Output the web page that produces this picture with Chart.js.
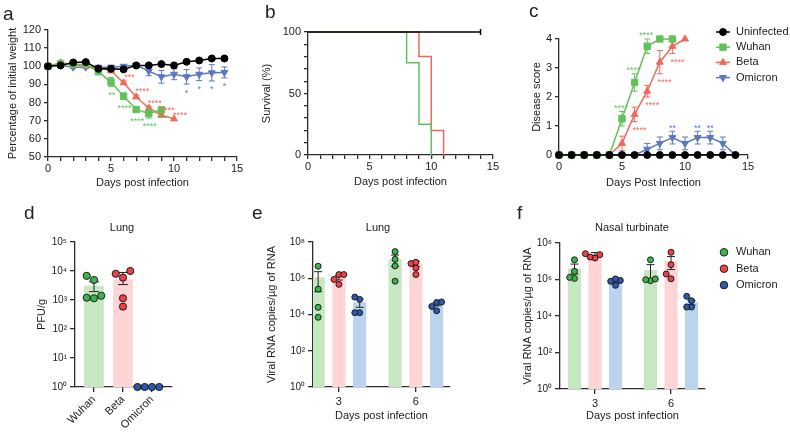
<!DOCTYPE html>
<html>
<head>
<meta charset="utf-8">
<script src="https://cdn.jsdelivr.net/npm/chart.js@4.4.0/dist/chart.umd.min.js"></script>
<style>
    body { margin: 0; background: #fff; }
    #fig { position: relative; width: 790px; height: 436px; overflow: hidden; font-family: "Liberation Sans", Arial, sans-serif; color: #222; }
    #fig canvas { position: absolute; }
    .letter { position: absolute; font-size: 19px; line-height: 19px; }
    .sub { position: absolute; font-size: 11px; line-height: 13px; transform: translateX(-50%); white-space: nowrap; }
</style>
</head>
<body>
<div id="fig">
    <canvas id="chartA" width="250" height="200" style="left:0;top:0"></canvas>
    <canvas id="chartB" width="250" height="200" style="left:250px;top:0"></canvas>
    <canvas id="chartC" width="290" height="200" style="left:500px;top:0"></canvas>
    <canvas id="chartD" width="250" height="236" style="left:0;top:200px"></canvas>
    <canvas id="chartE" width="250" height="236" style="left:250px;top:200px"></canvas>
    <canvas id="chartF" width="290" height="236" style="left:500px;top:200px"></canvas>
    <div class="letter" style="left:3px;top:4px">a</div>
    <div class="letter" style="left:265px;top:2px">b</div>
    <div class="letter" style="left:529px;top:1px">c</div>
    <div class="letter" style="left:24px;top:203px">d</div>
    <div class="letter" style="left:252px;top:203px">e</div>
    <div class="letter" style="left:517px;top:203px">f</div>
    <div class="sub" style="left:122px;top:221px">Lung</div>
    <div class="sub" style="left:378px;top:221px">Lung</div>
    <div class="sub" style="left:632px;top:221px">Nasal turbinate</div>
</div>
<script>
// a: body weight (mean, sem) per day
const days = [0, 1, 2, 3, 4, 5, 6, 7, 8, 9, 10, 11, 12, 13, 14];
const weightUninfected = [100, 100.5, 102.1, 102.3, 98.6, 98.6, 98.3, 100.5, 100.5, 101.2, 100.5, 102.5, 103.2, 104.3, 104.3];
const weightUninfectedSem = [0, 0.5, 0.6, 0.6, 0.6, 0.6, 0.8, 0.8, 0.6, 0.6, 0.6, 0.6, 0.6, 0.6, 0.6];
const weightWuhan = [100, 101.5, 101, 101, 97, 91.3, 83.5, 76.2, 74, 76];
const weightWuhanSem = [0, 0.8, 0.8, 0.8, 1.2, 2.5, 1.8, 1.5, 2.5, 0];
const weightBeta = [100, 102, 101, 100, 99, 97.5, 90.9, 83.2, 76.9, 73, 71];
const weightBetaSem = [0, 0.8, 0.8, 0.8, 0.8, 1, 1, 1, 1, 0.8, 0];
const weightOmicron = [100, 100.5, 99.5, 99.5, 99.5, 99.5, 100, 100.5, 97.3, 94.2, 95.6, 94.2, 95.6, 96.4, 96.6];
const weightOmicronSem = [0, 0.6, 0.8, 0.8, 0.8, 1, 1, 1, 2.5, 3.5, 3, 4, 3.5, 4.5, 3];
const weightWuhanStars = ['', '', '', '', '', '**', '****', '****', '****', '***'];
const weightBetaStars = ['', '', '', '', '', '', '***', '****', '****', '****', '****'];
const weightOmicronStars = ['', '', '', '', '', '', '', '', '', '', '', '*', '*', '*', '*'];

// b: survival steps
const survivalUninfectedDays = [0, 14];
const survivalUninfected = [100, 100];
const survivalWuhanDays = [0, 8, 9, 10];
const survivalWuhan = [100, 75, 25, 0];
const survivalBetaDays = [0, 9, 10, 11];
const survivalBeta = [100, 80, 20, 0];

// c: disease score
const scoreUninfected = [0, 0, 0, 0, 0, 0, 0, 0, 0, 0, 0, 0, 0, 0, 0];
const scoreWuhan = [0, 0, 0, 0, 0, 1.25, 2.5, 3.75, 4, 4];
const scoreWuhanSem = [0, 0, 0, 0, 0, 0.25, 0.3, 0.25, 0, 0];
const scoreBeta = [0, 0, 0, 0, 0, 0.4, 1.4, 2.2, 3.2, 3.75, 4];
const scoreBetaSem = [0, 0, 0, 0, 0, 0.25, 0.25, 0.2, 0.4, 0.25, 0];
const scoreOmicron = [0, 0, 0, 0, 0, 0, 0, 0.2, 0.4, 0.6, 0.4, 0.6, 0.6, 0.4, 0];
const scoreOmicronSem = [0, 0, 0, 0, 0, 0, 0, 0.2, 0.22, 0.22, 0.22, 0.22, 0.22, 0.22, 0];
const scoreWuhanStars = ['', '', '', '', '', '****', '****', '****', '', ''];
const scoreBetaStars = ['', '', '', '', '', '', '****', '****', '****', '****', ''];
const scoreOmicronStars = ['', '', '', '', '', '', '', '', '', '**', '', '**', '**', '', ''];

// d: lung PFU/g
const variants = ['Wuhan', 'Beta', 'Omicron'];
const pfuMean = [3000, 5000, 1];
const pfuLow = [1940, 3400, 1];
const pfuHigh = [4260, 8900, 1];
const pfuWuhan = [6800, 4900, 1200, 1400, 1150];
const pfuBeta = [10000, 5900, 8000, 1150, 590];
const pfuOmicron = [1, 1, 1, 1];

// e: lung viral RNA, days 3 and 6
const rnaDays = [3, 6];
const lungWuhanMean = [1.1e6, 1.08e7];
const lungBetaMean = [1.1e6, 6.5e6];
const lungOmicronMean = [4.5e4, 3.8e4];
const lungWuhanErr = [[1.8e5, 2.3e6], [4.5e6, 1.9e7]];
const lungBetaErr = [[8e5, 1.4e6], [4.5e6, 8.5e6]];
const lungOmicronErr = [[2.5e4, 6.8e4], [3e4, 4.6e4]];
const lungWuhanD3 = [4.6e6, 2.5e5, 2.5e4, 7e3];
const lungWuhanD6 = [2.95e7, 1.12e7, 4.8e6, 6.9e5];
const lungBetaD3 = [1.6e6, 1.6e6, 8.6e5, 4.6e5];
const lungBetaD6 = [7.6e6, 6.5e6, 3.7e6, 1.6e6];
const lungOmicronD3 = [6.8e4, 9.1e4, 1.26e4, 1.26e4];
const lungOmicronD6 = [4.9e4, 4.6e4, 2.8e4, 1.6e4];

// f: nasal turbinate viral RNA
const nasalWuhanMean = [3.8e6, 3.2e6];
const nasalBetaMean = [2.5e7, 1e7];
const nasalOmicronMean = [8.6e5, 5.5e4];
const nasalWuhanErr = [[2e6, 7e6], [1e6, 6.5e6]];
const nasalBetaErr = [[1.8e7, 3e7], [3.5e6, 1.8e7]];
const nasalOmicronErr = [[6e5, 9e5], [4e4, 7e4]];
const nasalWuhanD3 = [1.2e7, 2.8e6, 1.15e6, 1.3e6];
const nasalWuhanD6 = [1.2e7, 8.6e5, 9.8e5, 1.07e6];
const nasalBetaD3 = [2.6e7, 2.3e7, 1.5e7, 1.7e7];
const nasalBetaD6 = [3.1e7, 6.5e6, 2e6, 1.1e6];
const nasalOmicronD3 = [1.07e6, 8.9e5, 8e5, 4.8e5];
const nasalOmicronD6 = [1.2e5, 6.9e4, 3.1e4, 3.1e4];

const FONT = '"Liberation Sans", Arial, Helvetica, sans-serif';
const AXIS = '#2e2e2e';
const BLACK = '#000000';
const GREEN = '#62c25a';
const RED = '#f2685b';
const BLUE = '#5a78c4';
const BAR_COLORS = ['#c7e6c2', '#fdd5d6', '#bcd3ee'];
const DOT_COLORS = ['#3db34c', '#ee4049', '#2c5aa8'];
const SUP = { 0: '\u2070', 1: '\u00b9', 2: '\u00b2', 3: '\u00b3', 4: '\u2074', 5: '\u2075', 6: '\u2076', 7: '\u2077', 8: '\u2078' };

Chart.defaults.font.family = FONT;
Chart.defaults.font.size = 11;
Chart.defaults.color = '#222';
Chart.defaults.animation = false;
Chart.defaults.responsive = false;
Chart.defaults.plugins.legend.display = false;
Chart.defaults.plugins.tooltip.enabled = false;

const fixW = w => scale => { scale.width = w; };
const fixH = h => scale => { scale.height = h; };
const pow10Label = v => '10' + SUP[Math.round(Math.log10(v))];

function frame(tickLength) {
    return {
        offset: false,
        border: { color: AXIS, width: 1.3 },
        grid: { drawOnChartArea: false, offset: false, tickLength: tickLength, color: AXIS, lineWidth: 1.3 }
    };
}

// error bars, drawn right after their own dataset
const errorBars = {
    id: 'errorBars',
    afterDatasetDraw(chart, args) {
        const ds = chart.data.datasets[args.index];
        if (!ds.errLow) return;
        const y = chart.scales.y;
        const ctx = chart.ctx;
        const cap = ds.errCap || 3;
        ctx.save();
        ctx.strokeStyle = ds.errColor || ds.borderColor;
        ctx.lineWidth = 1;
        args.meta.data.forEach((el, i) => {
            const lo = y.getPixelForValue(ds.errLow[i]);
            const hi = y.getPixelForValue(ds.errHigh[i]);
            if (Math.abs(lo - hi) < 0.5) return;
            ctx.beginPath();
            ctx.moveTo(el.x, lo); ctx.lineTo(el.x, hi);
            ctx.moveTo(el.x - cap, lo); ctx.lineTo(el.x + cap, lo);
            ctx.moveTo(el.x - cap, hi); ctx.lineTo(el.x + cap, hi);
            ctx.stroke();
        });
        ctx.restore();
    }
};

// significance asterisks above or below the error bar
const stars = {
    id: 'stars',
    afterDatasetsDraw(chart) {
        const ctx = chart.ctx;
        const y = chart.scales.y;
        chart.data.datasets.forEach((ds, di) => {
            if (!ds.stars) return;
            const meta = chart.getDatasetMeta(di);
            ctx.save();
            ctx.fillStyle = ds.borderColor;
            ctx.font = '9px ' + FONT;
            ctx.textAlign = 'center';
            ctx.textBaseline = 'middle';
            meta.data.forEach((el, i) => {
                const s = ds.stars[i];
                if (!s) return;
                const yy = ds.starSide === 'above'
                    ? y.getPixelForValue(ds.errHigh[i]) - 3
                    : y.getPixelForValue(ds.errLow[i]) + 9;
                ctx.fillText(s, el.x + (ds.starDx || 0), yy);
            });
            ctx.restore();
        });
    }
};

function sideLegend(cfg) {
    return {
        id: 'sideLegend',
        afterDraw(chart) {
            const ctx = chart.ctx;
            let row = 0;
            chart.data.datasets.forEach(ds => {
                if (!ds.inLegend) return;
                const y = cfg.top + row * cfg.rowHeight;
                row++;
                ctx.save();
                if (cfg.line) {
                    ctx.strokeStyle = ds.borderColor;
                    ctx.lineWidth = 1.5;
                    ctx.beginPath();
                    ctx.moveTo(cfg.left - 7, y);
                    ctx.lineTo(cfg.left + 7, y);
                    ctx.stroke();
                }
                ctx.fillStyle = ds.backgroundColor;
                ctx.strokeStyle = ds.borderColor;
                ctx.lineWidth = ds.pointBorderWidth || 1;
                Chart.helpers.drawPoint(ctx, {
                    pointStyle: ds.pointStyle,
                    rotation: ds.pointRotation || 0,
                    radius: cfg.radius || ds.pointRadius,
                    borderWidth: ds.pointBorderWidth || 1
                }, cfg.left, y);
                ctx.fillStyle = '#222';
                ctx.font = '11px ' + FONT;
                ctx.textBaseline = 'middle';
                ctx.fillText(ds.label, cfg.left + cfg.textGap, y);
                ctx.restore();
            });
        }
    };
}

function lineSet(label, values, sem, color, style, radius, extra) {
    return Object.assign({
        label: label,
        data: values.map((v, i) => ({ x: days[i], y: v })),
        errLow: values.map((v, i) => v - sem[i]),
        errHigh: values.map((v, i) => v + sem[i]),
        borderColor: color,
        backgroundColor: color,
        borderWidth: 1.5,
        pointStyle: style === 'down' ? 'triangle' : style,
        pointRotation: style === 'down' ? 180 : 0,
        pointRadius: radius,
        pointBorderWidth: 1,
        errCap: 3,
        clip: false,
        inLegend: true
    }, extra || {});
}

// beeswarm-like horizontal spread for the dots of one group
function swarm(values, center, step, minGap) {
    const order = values.map((v, i) => i).sort((a, b) => values[a] - values[b]);
    const slots = [0, -1, 1, -2, 2, -3, 3];
    const placed = [];
    return order.map(i => {
        const lv = Math.log10(values[i]);
        const k = slots.find(s => placed.every(p => p.k !== s || Math.abs(p.lv - lv) >= minGap));
        placed.push({ k: k, lv: lv });
        return { x: center + k * step, y: values[i] };
    });
}

function dotSet(label, points, color, radius, legend) {
    return {
        type: 'scatter',
        label: label,
        data: points,
        backgroundColor: color,
        borderColor: '#111',
        pointBorderWidth: 0.9,
        pointRadius: radius,
        pointStyle: 'circle',
        clip: false,
        order: 1,
        inLegend: !!legend
    };
}

// ---------- a ----------
new Chart(document.getElementById('chartA'), {
    type: 'line',
    data: {
        datasets: [
            lineSet('Uninfected', weightUninfected, weightUninfectedSem, BLACK, 'circle', 3.5),
            lineSet('Wuhan', weightWuhan, weightWuhanSem, GREEN, 'rect', 4.5, { stars: weightWuhanStars, starSide: 'below', starDx: 1 }),
            lineSet('Beta', weightBeta, weightBetaSem, RED, 'triangle', 4, { stars: weightBetaStars, starSide: 'above', starDx: 6 }),
            lineSet('Omicron', weightOmicron, weightOmicronSem, BLUE, 'down', 4, { stars: weightOmicronStars, starSide: 'below' })
        ]
    },
    options: {
        layout: { padding: { top: 30, right: 13, left: 0, bottom: 0 }, autoPadding: false },
        scales: {
            x: Object.assign(frame(4), {
                type: 'linear', min: 0, max: 15, afterFit: fixH(43),
                ticks: { stepSize: 1, autoSkip: false, padding: 1, maxRotation: 0, callback: v => (v % 5 === 0 ? v : '') },
                title: { display: true, text: 'Days post infection', padding: { top: 0, bottom: 10 } }
            }),
            y: Object.assign(frame(4), {
                min: 50, max: 120, afterFit: fixW(48),
                ticks: { stepSize: 10, padding: 3 },
                title: { display: true, text: 'Percentage of initial weight', padding: { top: 6 } }
            })
        }
    },
    plugins: [errorBars, stars]
});

// ---------- b ----------
function survivalSet(label, xs, values, color, extra) {
    return Object.assign({
        label: label,
        data: values.map((v, i) => ({ x: xs[i], y: v })),
        borderColor: color,
        backgroundColor: color,
        borderWidth: 1.5,
        stepped: 'before',
        pointRadius: 0,
        clip: false
    }, extra || {});
}

new Chart(document.getElementById('chartB'), {
    type: 'line',
    data: {
        datasets: [
            survivalSet('Uninfected', survivalUninfectedDays, survivalUninfected, BLACK, {
                pointStyle: 'line', pointRotation: 90, pointBorderWidth: 1.5,
                pointRadius: ctx => (ctx.dataIndex === survivalUninfected.length - 1 ? 3 : 0)
            }),
            survivalSet('Wuhan', survivalWuhanDays, survivalWuhan, GREEN),
            survivalSet('Beta', survivalBetaDays, survivalBeta, RED)
        ]
    },
    options: {
        layout: { padding: { top: 32, right: 6, left: 0, bottom: 0 }, autoPadding: false },
        scales: {
            x: Object.assign(frame(4), {
                type: 'linear', min: 0, max: 15, afterFit: fixH(45),
                ticks: { stepSize: 1, autoSkip: false, padding: 1, maxRotation: 0, callback: v => (v % 5 === 0 ? v : '') },
                title: { display: true, text: 'Days post infection', padding: { top: 0, bottom: 11 } }
            }),
            y: Object.assign(frame(4), {
                min: 0, max: 100, afterFit: fixW(58),
                ticks: { stepSize: 10, autoSkip: false, padding: 3, callback: v => (v % 50 === 0 ? v : '') },
                title: { display: true, text: 'Survival (%)', padding: { top: 10 } }
            })
        }
    }
});

// ---------- c ----------
new Chart(document.getElementById('chartC'), {
    type: 'line',
    data: {
        datasets: [
            lineSet('Uninfected', scoreUninfected, scoreUninfected, BLACK, 'circle', 3.5),
            lineSet('Wuhan', scoreWuhan, scoreWuhanSem, GREEN, 'rect', 4.5, { stars: scoreWuhanStars, starSide: 'above', starDx: -1 }),
            lineSet('Beta', scoreBeta, scoreBetaSem, RED, 'triangle', 4, { stars: scoreBetaStars, starSide: 'below', starDx: 5 }),
            lineSet('Omicron', scoreOmicron, scoreOmicronSem, BLUE, 'down', 4, { stars: scoreOmicronStars, starSide: 'above' })
        ]
    },
    options: {
        layout: { padding: { top: 39, right: 42, left: 0, bottom: 0 }, autoPadding: false },
        scales: {
            x: Object.assign(frame(4), {
                type: 'linear', min: 0, max: 15, afterFit: fixH(45),
                ticks: { stepSize: 5, padding: 1, maxRotation: 0 },
                title: { display: true, text: 'Days Post Infection', padding: { top: 0, bottom: 10 } }
            }),
            y: Object.assign(frame(4), {
                min: 0, max: 4, afterFit: fixW(59),
                ticks: { stepSize: 1, padding: 3 },
                title: { display: true, text: 'Disease score', padding: { top: 30 } }
            })
        }
    },
    plugins: [errorBars, stars, sideLegend({ left: 223, top: 32, rowHeight: 15.2, textGap: 13, line: true })]
});

// ---------- d ----------
const pfuGroups = [pfuWuhan, pfuBeta, pfuOmicron];
new Chart(document.getElementById('chartD'), {
    type: 'bar',
    data: {
        datasets: [
            {
                type: 'bar',
                data: pfuMean.map((v, i) => ({ x: i, y: v })),
                backgroundColor: BAR_COLORS,
                barThickness: 19,
                grouped: false,
                errLow: pfuLow,
                errHigh: pfuHigh,
                errColor: '#222',
                errCap: 5,
                order: 2
            }
        ].concat(pfuGroups.map((vals, i) => dotSet(variants[i], swarm(vals, i, 0.25, 0.24), DOT_COLORS[i], 3.6)))
    },
    options: {
        layout: { padding: { top: 42, right: 78, left: 0, bottom: 0 }, autoPadding: false },
        scales: {
            x: Object.assign(frame(5), {
                type: 'linear', min: -0.655, max: 2.69, afterFit: fixH(49),
                afterBuildTicks: s => { s.ticks = [0, 1, 2].map(v => ({ value: v })); },
                ticks: { autoSkip: false, minRotation: 45, maxRotation: 45, padding: 1, callback: v => variants[v] }
            }),
            y: Object.assign(frame(5), {
                type: 'logarithmic', min: 1, max: 1e5, afterFit: fixW(75),
                afterBuildTicks: s => { s.ticks = [1, 10, 100, 1e3, 1e4, 1e5].map(v => ({ value: v })); },
                ticks: { padding: 3, font: { size: 10 }, callback: pow10Label },
                title: { display: true, text: 'PFU/g', padding: { top: 35 } }
            })
        }
    },
    plugins: [errorBars]
});

// ---------- e / f ----------
const BAR_GAP = 0.81;
function rnaChart(id, means, errs, dots, layout) {
    const names = variants;
    const bars = means.map((m, s) => ({
        type: 'bar',
        label: names[s],
        data: m.map((v, g) => ({ x: rnaDays[g] + (s - 1) * BAR_GAP, y: v })),
        backgroundColor: BAR_COLORS[s],
        barThickness: 12.5,
        grouped: false,
        errLow: errs[s].map(e => e[0]),
        errHigh: errs[s].map(e => e[1]),
        errColor: '#222',
        errCap: 4,
        order: 2
    }));
    const scatter = dots.map((perDay, s) => dotSet(names[s],
        perDay.flatMap((vals, g) => swarm(vals, rnaDays[g] + (s - 1) * BAR_GAP, 0.19, 0.3)),
        DOT_COLORS[s], 3, layout.legend));
    const plugins = [errorBars];
    if (layout.legend) plugins.push(sideLegend({ left: 224, top: 52.3, rowHeight: 16.4, textGap: 12, radius: 3.8 }));
    return new Chart(document.getElementById(id), {
        type: 'bar',
        data: { datasets: bars.concat(scatter) },
        options: {
            layout: { padding: { top: layout.top, right: layout.right, left: 0, bottom: 0 }, autoPadding: false },
            scales: {
                x: Object.assign(frame(5), {
                    type: 'linear', min: layout.xMin, max: layout.xMax, afterFit: fixH(layout.xHeight),
                    afterBuildTicks: s => { s.ticks = rnaDays.map(v => ({ value: v })); },
                    ticks: { autoSkip: false, maxRotation: 0, padding: 3 },
                    title: { display: true, text: 'Days post infection', padding: { top: 0, bottom: 13 } }
                }),
                y: Object.assign(frame(5), {
                    type: 'logarithmic', min: 1, max: 1e8, afterFit: fixW(layout.yWidth),
                    afterBuildTicks: s => { s.ticks = [1, 100, 1e4, 1e6, 1e8].map(v => ({ value: v })); },
                    ticks: { padding: 3, font: { size: 10 }, callback: pow10Label },
                    title: { display: true, text: 'Viral RNA copies/\u00b5g of RNA', padding: { top: layout.titlePad } }
                })
            }
        },
        plugins: plugins
    });
}

rnaChart('chartE',
    [lungWuhanMean, lungBetaMean, lungOmicronMean],
    [lungWuhanErr, lungBetaErr, lungOmicronErr],
    [[lungWuhanD3, lungWuhanD6], [lungBetaD3, lungBetaD6], [lungOmicronD3, lungOmicronD6]],
    { top: 42, right: 50, yWidth: 63, xHeight: 49, xMin: 1.99, xMax: 7.33, titlePad: 15, legend: false });

rnaChart('chartF',
    [nasalWuhanMean, nasalBetaMean, nasalOmicronMean],
    [nasalWuhanErr, nasalBetaErr, nasalOmicronErr],
    [[nasalWuhanD3, nasalWuhanD6], [nasalBetaD3, nasalBetaD6], [nasalOmicronD3, nasalOmicronD6]],
    { top: 43, right: 85, yWidth: 60, xHeight: 47, xMin: 1.618, xMax: 7.342, titlePad: 21, legend: true });
</script>
</body>
</html>
